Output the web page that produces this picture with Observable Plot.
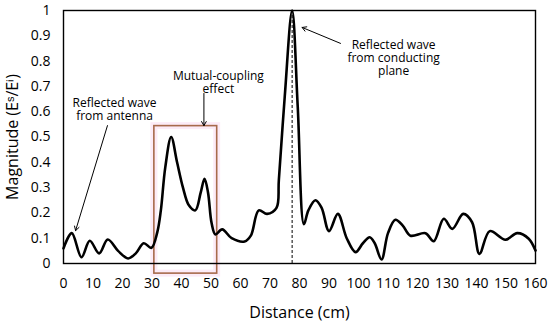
<!DOCTYPE html>
<html>
<head>
<meta charset="utf-8">
<script src="https://cdn.jsdelivr.net/npm/d3@7"></script>
<script src="https://cdn.jsdelivr.net/npm/@observablehq/plot@0.6"></script>
<style>
  html, body { margin: 0; padding: 0; background: #fff; }
  #chart svg { font-family: "Open Sans", sans-serif; }
  #chart svg [aria-label="x-axis label"] text,
  #chart svg [aria-label="y-axis label"] text { font-size: 16px; }
</style>
</head>
<body>
<div id="chart"></div>
<script>
// Curve samples: distance (cm) and magnitude
const distance = [0, 2.8, 6.1, 8.9, 12.1, 15, 18.5, 21.9, 24.5, 27.2, 29.8, 31.8, 33, 34.5, 36.5, 38.5, 40.5, 42.5, 44.7, 46.5, 47.8, 49, 50.2, 51.5, 53.8, 57, 61.4, 63.5, 66.2, 69, 72.2, 73, 75, 77.5, 79.4, 81.5, 83, 85.4, 87.5, 90, 93, 96, 99, 101.5, 103.8, 105.5, 107.8, 110, 112.5, 115, 117.6, 122.7, 125.5, 128.9, 131.8, 135.5, 138.5, 141, 144.5, 149.8, 153.8, 157.7, 160];
const magnitude = [0.06, 0.12, 0.025, 0.09, 0.04, 0.095, 0.05, 0.02, 0.04, 0.08, 0.062, 0.124, 0.21, 0.38, 0.5, 0.4, 0.3, 0.23, 0.21, 0.28, 0.335, 0.28, 0.16, 0.115, 0.135, 0.1, 0.087, 0.11, 0.21, 0.196, 0.22, 0.33, 0.66, 1.0, 0.62, 0.155, 0.21, 0.25, 0.22, 0.128, 0.196, 0.1, 0.045, 0.08, 0.104, 0.08, 0.016, 0.12, 0.173, 0.15, 0.11, 0.12, 0.088, 0.177, 0.137, 0.196, 0.163, 0.038, 0.128, 0.094, 0.12, 0.098, 0.051];

// Axis ticks
const xTicks = [0, 10, 20, 30, 40, 50, 60, 70, 80, 90, 100, 110, 120, 130, 140, 150, 160];
const yTicks = [0, 0.1, 0.2, 0.3, 0.4, 0.5, 0.6, 0.7, 0.8, 0.9, 1];

// Highlight box (mutual coupling region)
const boxX = [30.8, 52.1];
const boxY = [-0.04, 0.543];

// Peak marker (dashed line)
const peakX = [77.5];

// Annotation lines (one entry per text line)
const noteLines = ["Reflected wave", "from antenna", "Mutual-coupling", "effect", "Reflected wave", "from conducting", "plane"];
const noteX = [17.3, 17.3, 52.5, 52.5, 111.9, 111.9, 111.9];
const noteY = [0.634, 0.582, 0.741, 0.690, 0.864, 0.812, 0.760];
// Annotation arrows
const arrowX1 = [14.9, 47.6, 93.9];
const arrowY1 = [0.545, 0.672, 0.87];
const arrowX2 = [4.1, 47.6, 80.9];
const arrowY2 = [0.13, 0.545, 0.933];

const series = distance.map((d, i) => ({d, m: magnitude[i]}));
const notes = noteLines.map((t, i) => ({t, x: noteX[i], y: noteY[i]}));
const arrows = arrowX1.map((x1, i) => ({x1, y1: arrowY1[i], x2: arrowX2[i], y2: arrowY2[i]}));
const box = [{x1: boxX[0], x2: boxX[1], y1: boxY[0], y2: boxY[1]}];

const chart = Plot.plot({
  width: 550,
  height: 323,
  marginLeft: 63,
  marginRight: 15,
  marginTop: 10,
  marginBottom: 60,
  x: {domain: [0, 160]},
  y: {domain: [0, 1]},
  marks: [
    Plot.rect(box, {x1: "x1", x2: "x2", y1: "y1", y2: "y2", fill: "none", stroke: "#fbe3f3", strokeWidth: 7, strokeOpacity: 0.7}),
    Plot.rect(box, {x1: "x1", x2: "x2", y1: "y1", y2: "y2", fill: "none", stroke: "#a86a4c", strokeWidth: 1.6}),
    Plot.ruleX(peakX, {y1: 0, y2: 1, stroke: "black", strokeWidth: 1, strokeDasharray: "3,2"}),
    Plot.line(series, {x: "d", y: "m", curve: "catmull-rom", stroke: "black", strokeWidth: 2.6}),
    Plot.frame({stroke: "black", strokeWidth: 1.4}),
    Plot.axisX({ticks: xTicks, tickSize: 0, tickPadding: 15, fontSize: 14, label: "Distance (cm)", labelAnchor: "center", labelOffset: 54, labelArrow: "none"}),
    Plot.axisY({ticks: yTicks, tickSize: 0, tickPadding: 13, fontSize: 14, tickFormat: d => String(+d.toFixed(1)), label: "Magnitude (Eˢ/Eⁱ)", labelAnchor: "center", labelOffset: 57, labelArrow: "none"}),
    Plot.arrow(arrows, {x1: "x1", y1: "y1", x2: "x2", y2: "y2", stroke: "black", strokeWidth: 1, headLength: 7, bend: 0}),
    Plot.text(notes, {x: "x", y: "y", text: "t", fontSize: 12, fill: "black"})
  ]
});
document.getElementById("chart").appendChild(chart);
</script>
</body>
</html>
